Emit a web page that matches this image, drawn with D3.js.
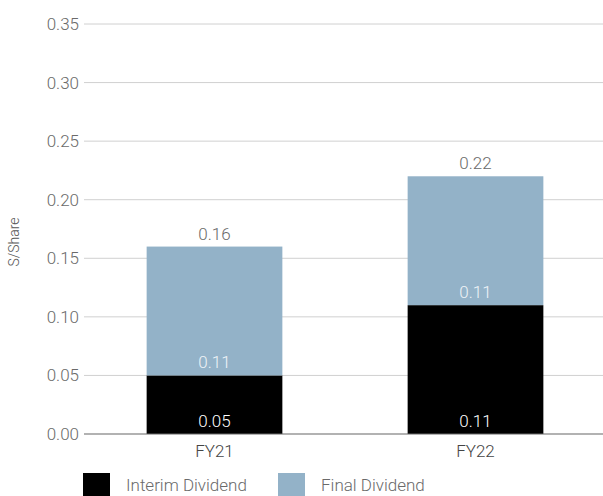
<!DOCTYPE html>
<html>
<head>
<meta charset="utf-8">
<script src="https://cdn.jsdelivr.net/npm/d3@7"></script>
<style>
  body { margin: 0; background: #fff; }
  svg text { font-family: Roboto, "Liberation Sans", sans-serif; font-weight: 300; }
</style>
</head>
<body>
<svg id="chart" width="603" height="496"></svg>
<script>
const years = ["FY21", "FY22"];
const interim = [0.05, 0.11];
const finalDiv = [0.11, 0.11];
const totals = [0.16, 0.22];
const yTicks = [0, 0.05, 0.10, 0.15, 0.20, 0.25, 0.30, 0.35];
const seriesNames = ["Interim Dividend", "Final Dividend"];
const colors = ["#000000", "#93b2c8"];

const svg = d3.select("#chart");
const m = { left: 84, right: 603, top: 24, bottom: 434 };

const x = d3.scaleBand().domain(years).range([m.left, 606])
  .paddingInner(0.48).paddingOuter(0.24);
const y = d3.scaleLinear().domain([0, 0.35]).range([m.bottom, m.top]);

// gridlines
svg.append("g").selectAll("line").data(yTicks.slice(1)).join("line")
  .attr("x1", m.left).attr("x2", m.right)
  .attr("y1", d => y(d)).attr("y2", d => y(d))
  .attr("stroke", "#d0d0d0").attr("stroke-width", 1);

// y tick labels
svg.append("g").selectAll("text").data(yTicks).join("text")
  .attr("x", 79).attr("y", d => y(d)).attr("dy", "0.35em")
  .attr("text-anchor", "end").attr("font-size", 17).attr("fill", "#6a6a6a")
  .text(d => d3.format(".2f")(d));

// y axis title
svg.append("text")
  .attr("transform", `translate(19,${(m.top + m.bottom) / 2 + 13}) rotate(-90)`)
  .attr("text-anchor", "middle").attr("font-size", 14).attr("fill", "#555")
  .text("S/Share");

// stacked bars
const rows = years.map((k, i) => ({ year: k, interim: interim[i], final: finalDiv[i] }));
const stack = d3.stack().keys(["interim", "final"])(rows);

stack.forEach((layer, li) => {
  const g = svg.append("g");
  g.selectAll("rect").data(layer).join("rect")
    .attr("x", d => x(d.data.year)).attr("width", x.bandwidth())
    .attr("y", d => y(d[1])).attr("height", d => y(d[0]) - y(d[1]))
    .attr("fill", colors[li]);
  g.selectAll("text").data(layer).join("text")
    .attr("x", d => x(d.data.year) + x.bandwidth() / 2)
    .attr("y", d => y(d[0]) - 7)
    .attr("text-anchor", "middle").attr("font-size", 17)
    .attr("fill", li === 0 ? "#ffffff" : "#eef3f7")
    .text(d => d3.format(".2f")(d[1] - d[0]));
});

// totals
svg.append("g").selectAll("text").data(totals).join("text")
  .attr("x", (d, i) => x(years[i]) + x.bandwidth() / 2)
  .attr("y", d => y(d) - 7)
  .attr("text-anchor", "middle").attr("font-size", 17).attr("fill", "#6a6a6a")
  .text(d => d3.format(".2f")(d));

// baseline
svg.append("line")
  .attr("x1", m.left).attr("x2", m.right)
  .attr("y1", y(0)).attr("y2", y(0))
  .attr("stroke", "#666").attr("stroke-width", 1.2);

// x labels
svg.append("g").selectAll("text").data(years).join("text")
  .attr("x", d => x(d) + x.bandwidth() / 2).attr("y", 457)
  .attr("text-anchor", "middle").attr("font-size", 17).attr("fill", "#444")
  .text(d => d);

// legend
const legendX = [83, 278];
const lg = svg.append("g").selectAll("g").data(seriesNames).join("g")
  .attr("transform", (d, i) => `translate(${legendX[i]},473)`);
lg.append("rect").attr("width", 27).attr("height", 23).attr("fill", (d, i) => colors[i]);
lg.append("text").attr("x", 43).attr("y", 18)
  .attr("font-size", 17).attr("fill", "#6a6a6a").text(d => d);
</script>
</body>
</html>
